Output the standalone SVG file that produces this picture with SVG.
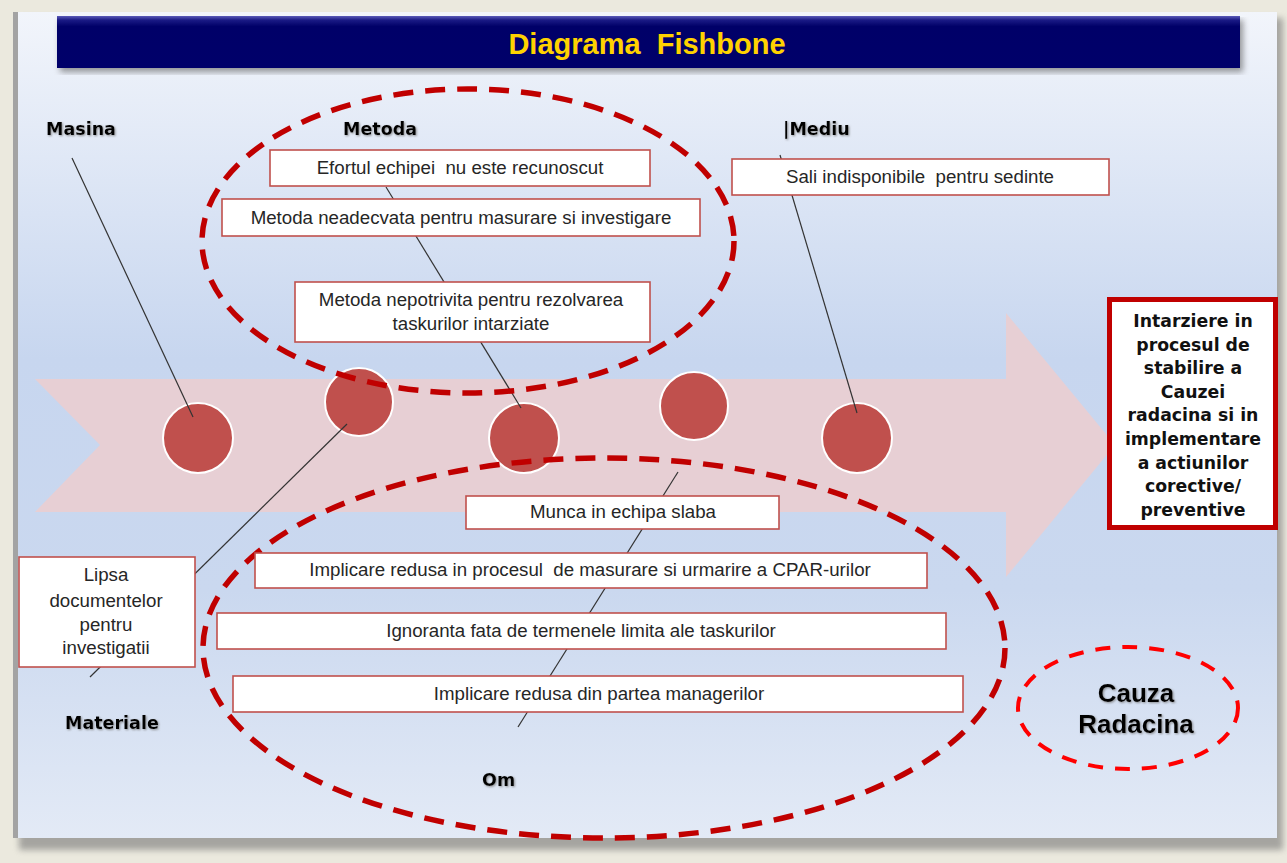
<svg xmlns="http://www.w3.org/2000/svg" width="1287" height="863" viewBox="0 0 1287 863">
<defs>
<linearGradient id="panelGrad" x1="0" y1="0" x2="0" y2="1">
<stop offset="0" stop-color="#F2F5FB"/>
<stop offset="0.42" stop-color="#C7D6EF"/>
<stop offset="0.7" stop-color="#CAD8EF"/>
<stop offset="1" stop-color="#E3EAF6"/>
</linearGradient>
<linearGradient id="titleGrad" x1="0" y1="0" x2="0" y2="1">
<stop offset="0" stop-color="#5A5AB8"/>
<stop offset="0.08" stop-color="#1A1A85"/>
<stop offset="0.2" stop-color="#000068"/>
<stop offset="1" stop-color="#00006A"/>
</linearGradient>
<filter id="blur" x="-5%" y="-5%" width="110%" height="110%"><feGaussianBlur stdDeviation="3"/></filter>
<filter id="tshadow" x="-10%" y="-30%" width="120%" height="160%"><feDropShadow dx="1" dy="1" stdDeviation="0.8" flood-color="#777" flood-opacity="0.8"/></filter>
<style>
.box{fill:#FFFFFF;stroke:#C0504D;stroke-width:1.6}
.btxt{font-family:"Liberation Sans",Arial,sans-serif;font-size:18.7px;fill:#262626;text-anchor:middle;white-space:pre}
.lbl{font-family:"DejaVu Sans",Verdana,sans-serif;font-weight:bold;font-size:17.5px;fill:#000000;filter:url(#tshadow);white-space:pre}
.circ{fill:#C0504D;stroke:#FFFFFF;stroke-width:2}
.bone{stroke:#333333;stroke-width:1.2;fill:none}
.rtxt{font-family:"DejaVu Sans",Verdana,sans-serif;font-weight:bold;font-size:17.3px;fill:#111111;text-anchor:middle}
</style>
</defs>
<rect x="0" y="0" width="1287" height="863" fill="#EBE9DE"/>
<rect x="19" y="18" width="1264" height="832" fill="#777" opacity="0.6" filter="url(#blur)"/>
<rect x="14" y="12" width="1263" height="826" fill="url(#panelGrad)"/>
<rect x="13" y="12" width="5" height="826" fill="#A3A3A3"/>

<g id="title">
<rect x="60" y="20" width="1183" height="52" fill="#555" opacity="0.6" filter="url(#blur)"/>
<rect x="57" y="16" width="1183" height="52" fill="url(#titleGrad)"/>
<text x="647" y="54" text-anchor="middle" font-family="Liberation Sans, Arial, sans-serif" font-weight="bold" font-size="29" fill="#FFD200" style="white-space:pre">Diagrama  Fishbone</text>
</g>

<g id="spine">
<polygon points="35,379 1006,379 1006,313 1115,445 1006,577 1006,512 35,512 100,445" fill="#E7CFD4"/>
</g>

<g id="circles">
<circle class="circ" cx="198" cy="438" r="35"/>
<circle class="circ" cx="359" cy="402" r="34"/>
<circle class="circ" cx="524" cy="438" r="35"/>
<circle class="circ" cx="694" cy="406" r="34"/>
<circle class="circ" cx="857" cy="438" r="35"/>
</g>

<g id="connectors">
<line class="bone" x1="72" y1="158" x2="193" y2="417"/>
<line class="bone" x1="386" y1="187" x2="521" y2="408"/>
<line class="bone" x1="780" y1="155" x2="857" y2="413"/>
<line class="bone" x1="347" y1="424" x2="90" y2="677"/>
<line class="bone" x1="678" y1="472" x2="518" y2="727"/>
</g>

<g id="groupings" fill="none">
<ellipse cx="468" cy="241" rx="266" ry="152" stroke="#C00000" stroke-width="5.5" stroke-dasharray="20 12"/>
<ellipse cx="604" cy="648" rx="401" ry="190" stroke="#C00000" stroke-width="5.5" stroke-dasharray="20 12"/>
</g>

<g id="lbl-masina"><text class="lbl" x="46" y="135">Masina</text></g>
<g id="lbl-metoda"><text class="lbl" x="343" y="135">Metoda</text></g>
<g id="lbl-mediu"><text class="lbl" x="783" y="135">|Mediu</text></g>
<g id="lbl-materiale"><text class="lbl" x="65" y="729">Materiale</text></g>
<g id="lbl-om"><text class="lbl" x="482" y="786">Om</text></g>

<g id="cause-efort"><rect class="box" x="270" y="150" width="380" height="36"/><text class="btxt" x="460" y="174">Efortul echipei  nu este recunoscut</text></g>
<g id="cause-metoda-masurare"><rect class="box" x="222" y="199" width="478" height="37"/><text class="btxt" x="461" y="224">Metoda neadecvata pentru masurare si investigare</text></g>
<g id="cause-metoda-rezolvare"><rect class="box" x="295" y="282" width="355" height="60"/><text class="btxt" x="471" y="306">Metoda nepotrivita pentru rezolvarea</text><text class="btxt" x="471" y="330">taskurilor intarziate</text></g>
<g id="cause-sali"><rect class="box" x="732" y="159" width="377" height="36"/><text class="btxt" x="920" y="183">Sali indisponibile  pentru sedinte</text></g>
<g id="cause-munca"><rect class="box" x="466" y="496" width="313" height="33"/><text class="btxt" x="623" y="518">Munca in echipa slaba</text></g>
<g id="cause-cpar"><rect class="box" x="255" y="553" width="672" height="35"/><text class="btxt" x="590" y="576">Implicare redusa in procesul  de masurare si urmarire a CPAR-urilor</text></g>
<g id="cause-termene"><rect class="box" x="217" y="613" width="729" height="36"/><text class="btxt" x="581" y="637">Ignoranta fata de termenele limita ale taskurilor</text></g>
<g id="cause-manageri"><rect class="box" x="233" y="676" width="730" height="36"/><text class="btxt" x="599" y="700">Implicare redusa din partea managerilor</text></g>
<g id="cause-lipsa"><rect class="box" x="19" y="557" width="176" height="110"/>
<text class="btxt" x="106" y="581">Lipsa</text><text class="btxt" x="106" y="607">documentelor</text><text class="btxt" x="106" y="631">pentru</text><text class="btxt" x="106" y="654">investigatii</text></g>

<g id="effect">
<rect x="1109.5" y="299.5" width="166" height="228" fill="#FFFFFF" stroke="#C00000" stroke-width="5"/>
<text class="rtxt" x="1193" y="327">Intarziere in</text>
<text class="rtxt" x="1193" y="350.6">procesul de</text>
<text class="rtxt" x="1193" y="374.2">stabilire a</text>
<text class="rtxt" x="1193" y="397.8">Cauzei</text>
<text class="rtxt" x="1193" y="421.4">radacina si in</text>
<text class="rtxt" x="1193" y="445">implementare</text>
<text class="rtxt" x="1193" y="468.6">a actiunilor</text>
<text class="rtxt" x="1193" y="492.2">corective/</text>
<text class="rtxt" x="1193" y="515.8">preventive</text>
</g>

<g id="root-cause">
<ellipse cx="1128" cy="708" rx="110" ry="61" fill="none" stroke="#FF0000" stroke-width="4" stroke-dasharray="15 12"/>
<text x="1136" y="702" text-anchor="middle" font-family="Liberation Sans, Arial, sans-serif" font-weight="bold" font-size="26" fill="#000" filter="url(#tshadow)">Cauza</text>
<text x="1136" y="733" text-anchor="middle" font-family="Liberation Sans, Arial, sans-serif" font-weight="bold" font-size="26" fill="#000" filter="url(#tshadow)">Radacina</text>
</g>
</svg>
